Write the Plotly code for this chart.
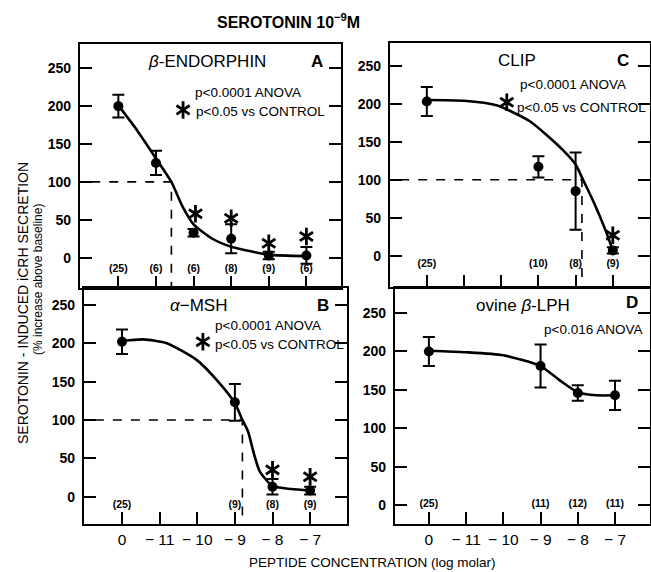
import plotly.graph_objects as go

# ---------------- data ----------------
xcats = ["0", "− 11", "− 10", "− 9", "− 8", "− 7"]

# Panel A: beta-endorphin
a_x = [0, 1, 2, 3, 4, 5]
a_y = [200, 125, 33, 25, 3, 3]
a_err = [15, 16, 5, 19, 5, 11]
a_n = ["(25)", "(6)", "(6)", "(8)", "(9)", "(6)"]
a_curve_x = [0, 0.5, 1, 1.41, 1.7, 2, 2.5, 3, 4, 5]
a_curve_y = [201, 168, 131, 100, 68, 44, 25, 14.5, 4, 2]
a_star_x = [2.05, 3, 4, 5]
a_star_y = [58, 52, 19, 28]
a_half = 1.41

# Panel C: CLIP
c_x = [0, 3, 4, 5]
c_y = [203, 117, 85, 7]
c_err = [19, 14, 51, 4]
c_n = ["(25)", "(10)", "(8)", "(9)"]
c_curve_x = [0, 1, 1.87, 2.77, 3.66, 4.0, 4.2, 4.5, 4.8, 5]
c_curve_y = [205, 204, 198, 177, 139, 120, 100, 69, 34, 7]
c_star_x = [5]
c_star_y = [27]
c_half = 4.17

# Panel B: alpha-MSH
b_x = [0, 3, 4, 5]
b_y = [202, 123, 13, 8]
b_err = [16, 24, 10, 5]
b_n = ["(25)", "(9)", "(8)", "(9)"]
b_curve_x = [0, 0.57, 1.19, 1.99, 2.52, 3.0, 3.2, 3.35, 3.5, 3.66, 4, 4.5, 5]
b_curve_y = [203, 205, 200, 178, 152, 122, 100, 85, 57, 33, 14, 10, 8]
b_star_x = [4, 5]
b_star_y = [35, 26]
b_half = 3.2

# Panel D: ovine beta-LPH
d_x = [0, 3, 4, 5]
d_y = [200, 181, 146, 143]
d_err = [19, 28, 10, 19]
d_n = ["(25)", "(11)", "(12)", "(11)"]
d_curve_x = [0, 1, 2, 3, 3.5, 4, 4.5, 5]
d_curve_y = [201, 199, 195, 181, 163, 147, 143, 143]

yticks = [0, 50, 100, 150, 200, 250]

# ---------------- layout helpers ----------------
W, H = 651, 572
FONT = "Liberation Sans"


def px(x, y):
    return x / W, 1 - y / H


def dom(x0, x1, y0, y1):
    return [x0 / W, x1 / W], [1 - y1 / H, 1 - y0 / H]


panels = {
    # name: (xdomain px, ydomain px, xrange, yrange, show x labels)
    "A": ((80, 341), (44, 288), [-1.02, 5.92], [-40, 282], False),
    "C": ((390, 650), (43, 287), [-0.99, 6.0], [-41.2, 280], False),
    "B": ((84, 347), (288, 524), [-1.01, 5.98], [-35.6, 272], True),
    "D": ((395, 650), (288, 524), [-0.91, 5.94], [-24.5, 282.6], True),
}
order = ["A", "C", "B", "D"]

fig = go.Figure()
layout = dict(
    width=W, height=H,
    margin=dict(l=0, r=0, t=0, b=0),
    paper_bgcolor="white", plot_bgcolor="white",
    showlegend=False,
    font=dict(family=FONT, color="black"),
)

for i, name in enumerate(order):
    (x0, x1), (y0, y1), xr, yr, showx = panels[name]
    xd, yd = dom(x0, x1, y0, y1)
    sfx = "" if i == 0 else str(i + 1)
    layout["xaxis" + sfx] = dict(
        domain=xd, range=xr, anchor="y" + sfx,
        tickmode="array", tickvals=list(range(6)), ticktext=xcats,
        ticks="inside", ticklen=12, tickwidth=2, tickcolor="black",
        showline=True, linewidth=2.4, linecolor="black", mirror=True,
        showgrid=False, zeroline=False, showticklabels=showx,
        tickfont=dict(family=FONT, size=15.5, color="black"),
        fixedrange=True,
    )
    layout["yaxis" + sfx] = dict(
        domain=yd, range=yr, anchor="x" + sfx,
        tickmode="array", tickvals=yticks,
        ticks="inside", ticklen=12, tickwidth=2, tickcolor="black",
        showline=True, linewidth=2.4, linecolor="black", mirror="ticks",
        showgrid=False, zeroline=False,
        tickfont=dict(family=FONT, size=14, color="black", weight="bold"),
        ticklabelstandoff=4,
        fixedrange=True,
    )

fig.update_layout(**layout)


def add_panel(idx, xs, ys, errs, ns, cx, cy, half, yr, n_y, sx=None, sy=None):
    sfx = "" if idx == 0 else str(idx + 1)
    xa, ya = "x" + sfx, "y" + sfx
    # dashed half-max guides
    if half is not None:
        fig.add_trace(go.Scatter(
            x=[-1.2, half, half], y=[100, 100, yr[0]], mode="lines",
            line=dict(color="black", width=1.6, dash="dash"),
            xaxis=xa, yaxis=ya, hoverinfo="skip"))
    # fitted curve
    fig.add_trace(go.Scatter(
        x=cx, y=cy, mode="lines",
        line=dict(color="black", width=2.6, shape="spline", smoothing=0.6),
        xaxis=xa, yaxis=ya, hoverinfo="skip"))
    # data points
    fig.add_trace(go.Scatter(
        x=xs, y=ys, mode="markers",
        marker=dict(color="black", size=10, symbol="circle"),
        error_y=dict(type="data", array=errs, color="black", thickness=2, width=6),
        xaxis=xa, yaxis=ya))
    # n labels
    fig.add_trace(go.Scatter(
        x=xs, y=[n_y] * len(ns), text=ns, mode="text",
        textfont=dict(family=FONT, size=10.5, color="black", weight="bold"),
        xaxis=xa, yaxis=ya, hoverinfo="skip"))
    # significance stars
    if sx:
        for sym in ["y-up-open", "y-down-open"]:
            fig.add_trace(go.Scatter(
                x=sx, y=sy, mode="markers",
                marker=dict(symbol=sym, size=11, color="black",
                            line=dict(color="black", width=2.8)),
                xaxis=xa, yaxis=ya, hoverinfo="skip"))


add_panel(0, a_x, a_y, a_err, a_n, a_curve_x, a_curve_y, a_half, panels["A"][3], -16,
          a_star_x + [1.72], a_star_y + [195])
add_panel(1, c_x, c_y, c_err, c_n, c_curve_x, c_curve_y, c_half, panels["C"][3], -12,
          c_star_x + [2.15], c_star_y + [202])
add_panel(2, b_x, b_y, b_err, b_n, b_curve_x, b_curve_y, b_half, panels["B"][3], -11,
          b_star_x + [2.15], b_star_y + [202])
add_panel(3, d_x, d_y, d_err, d_n, d_curve_x, d_curve_y, None, panels["D"][3], 1)

anns = []


def ann(text, x, y, size, xanchor="center", bold=False, angle=0):
    ax, ay = px(x, y)
    anns.append(dict(
        text=text, x=ax, y=ay, xref="paper", yref="paper", showarrow=False,
        xanchor=xanchor, yanchor="middle", textangle=angle,
        font=dict(family=FONT, size=size, color="black", weight="bold" if bold else "normal")))


ann("SEROTONIN 10<sup>−9</sup>M", 288, 21, 16, bold=True)
ann("SEROTONIN - INDUCED iCRH SECRETION", 23, 303, 14, angle=-90)
ann("(% increase above baseline)", 38, 280, 12, angle=-90)
ann("PEPTIDE CONCENTRATION (log molar)", 372, 562, 13.5)

ann("<i>β</i>-ENDORPHIN", 207, 62, 17)
ann("A", 317, 62, 17, bold=True)
ann("p&lt;0.0001 ANOVA", 193, 92, 13.5, xanchor="left")
ann("p&lt;0.05 vs CONTROL", 194, 111, 13.5, xanchor="left")

ann("CLIP", 517, 60, 17)
ann("C", 623, 60, 17, bold=True)
ann("p&lt;0.0001 ANOVA", 518, 85, 13.5, xanchor="left")
ann("p&lt;0.05 vs CONTROL", 515, 107, 13.5, xanchor="left")

ann("<i>α</i>−MSH", 198, 305, 17)
ann("B", 323, 305, 17, bold=True)
ann("p&lt;0.0001 ANOVA", 213, 325, 13.5, xanchor="left")
ann("p&lt;0.05 vs CONTROL", 213, 344, 13.5, xanchor="left")

ann("ovine <i>β</i>-LPH", 523, 305, 17)
ann("D", 632, 302, 17, bold=True)
ann("p&lt;0.016 ANOVA", 542, 329, 13.5, xanchor="left")

fig.update_layout(annotations=anns)
fig.write_html("out.html")
